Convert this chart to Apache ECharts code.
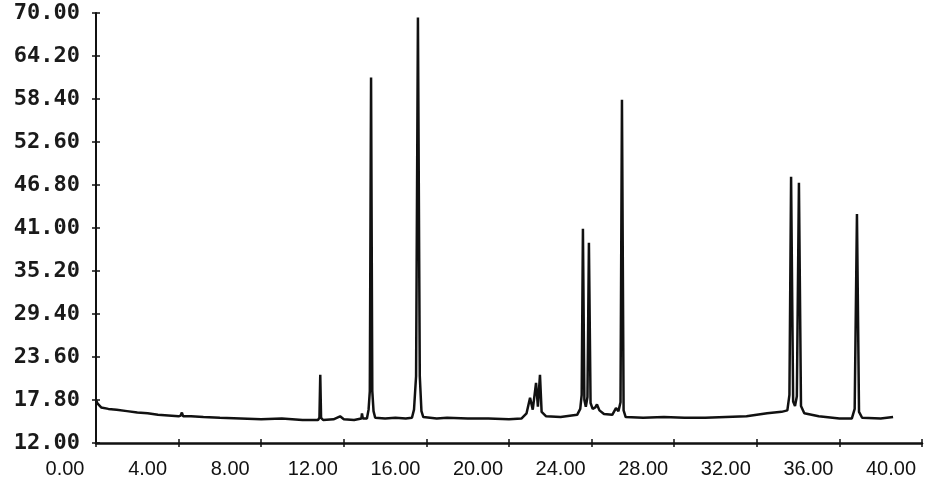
<!DOCTYPE html>
<html>
<head>
<meta charset="utf-8">
<script src="https://cdn.jsdelivr.net/npm/echarts@6/dist/echarts.min.js"></script>
<style>
html,body{margin:0;padding:0;background:#fff;}
#chart{width:932px;height:483px;}
</style>
</head>
<body>
<div id="chart"></div>
<script>
// Retention time (min)
var times = [
  0.00, 0.08, 0.25, 0.6, 1.0, 1.5, 2.0, 2.5, 3.0, 3.5, 4.0, 4.1, 4.16, 4.22, 4.6, 5.2, 6.0, 7.0, 8.0, 9.0, 10.0,
  10.75, 10.82, 10.86, 10.90, 11.0, 11.5, 11.82, 12.0, 12.5, 12.85, 12.88, 12.92,
  13.12, 13.2, 13.26, 13.32, 13.38, 13.44, 13.52, 14.0, 14.5, 15.0,
  15.3, 15.4, 15.5, 15.59, 15.68, 15.76, 15.85, 16.5, 17.0, 18.0, 19.0, 20.0,
  20.6, 20.85, 21.02, 21.15, 21.31, 21.40, 21.50, 21.58, 21.8, 22.5,
  23.3, 23.45, 23.52, 23.58, 23.65, 23.72, 23.80, 23.87, 23.95, 24.05, 24.18, 24.26, 24.38, 24.6,
  25.0, 25.18, 25.30, 25.40, 25.47, 25.55, 25.65, 26.5, 27.5, 28.5, 29.5, 30.5, 31.5, 32.5,
  33.2, 33.48, 33.58, 33.66, 33.76, 33.85, 33.94, 34.04, 34.14, 34.30, 35.0, 36.0,
  36.6, 36.74, 36.85, 36.95, 37.1, 38.0, 38.6
];
// Detector signal
var signal = [
  17.8, 17.3, 16.8, 16.6, 16.5, 16.3, 16.1, 16.0, 15.8, 15.7, 15.6, 15.7, 16.1, 15.6, 15.6, 15.5, 15.4, 15.3, 15.2, 15.3, 15.1,
  15.1, 15.4, 21.2, 15.4, 15.1, 15.2, 15.6, 15.2, 15.1, 15.3, 16.0, 15.3,
  15.3, 16.5, 19.0, 61.3, 19.0, 16.3, 15.4, 15.3, 15.4, 15.3,
  15.4, 16.5, 21.0, 69.4, 21.0, 16.3, 15.5, 15.3, 15.4, 15.3, 15.3, 15.2,
  15.3, 16.0, 18.1, 16.5, 20.1, 16.9, 21.2, 16.2, 15.6, 15.5,
  15.8, 16.6, 18.5, 40.9, 17.8, 16.9, 18.2, 39.0, 17.4, 16.6, 16.8, 17.2, 16.4, 15.9,
  15.8, 16.7, 16.3, 17.5, 58.3, 16.4, 15.5, 15.4, 15.5, 15.4, 15.4, 15.5, 15.6, 16.0,
  16.2, 16.4, 18.5, 47.9, 17.6, 17.0, 18.3, 47.1, 17.0, 16.0, 15.6, 15.3,
  15.3, 16.6, 42.9, 16.2, 15.4, 15.3, 15.5
];
var xTicks = {min: 0, max: 40, interval: 4};
var yTicks = {min: 12, max: 70, interval: 5.8};

var points = times.map(function (t, i) { return [t, signal[i]]; });
var ink = '#111111';

var chart = echarts.init(document.getElementById('chart'), null, {renderer: 'canvas'});
chart.setOption({
  backgroundColor: '#ffffff',
  animation: false,
  grid: {left: 96, right: 10, top: 13, bottom: 40},
  xAxis: [{
    type: 'value', min: xTicks.min, max: xTicks.max, interval: xTicks.interval,
    axisLine: {lineStyle: {color: ink, width: 2.5}},
    axisTick: {length: 4, lineStyle: {color: ink, width: 1.5}},
    splitLine: {show: false},
    axisLabel: {
      formatter: function (v) { return v.toFixed(2); },
      fontFamily: 'Liberation Sans', fontSize: 20, color: '#111',
      margin: 16, padding: [0, 62, 0, 0]
    }
  }, {
    type: 'value', min: xTicks.min, max: xTicks.max, interval: xTicks.interval,
    position: 'bottom',
    axisLine: {show: false},
    axisTick: {inside: true, length: 4, lineStyle: {color: ink, width: 1.5}},
    axisLabel: {show: false},
    splitLine: {show: false}
  }],
  yAxis: [{
    type: 'value', min: yTicks.min, max: yTicks.max, interval: yTicks.interval,
    axisLine: {show: true, lineStyle: {color: ink, width: 2}},
    axisTick: {show: true, length: 4, lineStyle: {color: ink, width: 1.5}},
    splitLine: {show: false},
    axisLabel: {
      formatter: function (v) { return v.toFixed(2); },
      fontFamily: 'DejaVu Sans Mono', fontWeight: 'bold', fontSize: 22, color: '#1a1a1a',
      margin: 16, padding: [6, 0, 0, 0]
    }
  }, {
    type: 'value', min: yTicks.min, max: yTicks.max, interval: yTicks.interval,
    position: 'left',
    axisLine: {show: false},
    axisTick: {show: true, inside: true, length: 4, lineStyle: {color: ink, width: 1.5}},
    axisLabel: {show: false},
    splitLine: {show: false}
  }],
  series: [{
    type: 'line',
    xAxisIndex: 0, yAxisIndex: 0,
    data: points,
    showSymbol: false,
    symbol: 'none',
    lineStyle: {color: ink, width: 2.5},
    z: 3
  }]
});
</script>
</body>
</html>
